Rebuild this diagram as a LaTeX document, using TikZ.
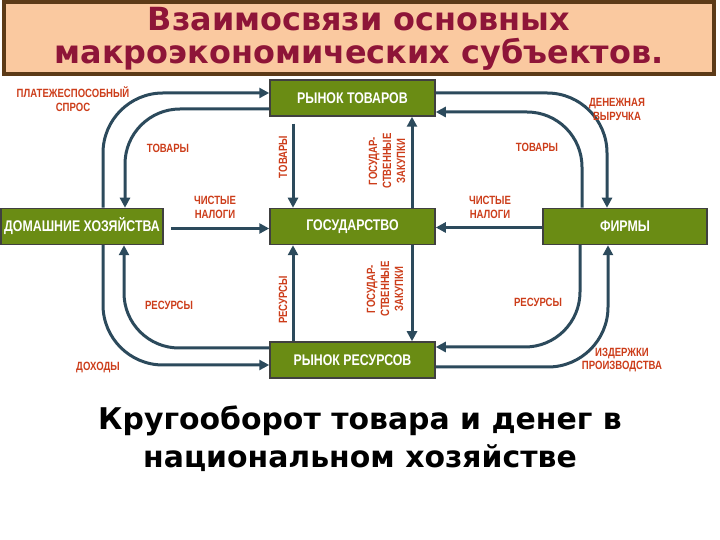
\documentclass[tikz,border=0pt]{standalone}
\usepackage{fontspec}
\setmainfont{Liberation Sans}
\newfontfamily\headfont{DejaVu Sans}
\newfontfamily\narrowfont[FakeStretch=0.8]{Liberation Sans}
\usetikzlibrary{arrows.meta}
\definecolor{boxgreen}{HTML}{6A8C14}
\definecolor{flowcol}{HTML}{2C4A5C}
\definecolor{labelred}{HTML}{CC3D1A}
\definecolor{titlebg}{HTML}{FAC9A0}
\definecolor{titleframe}{HTML}{5C3A17}
\definecolor{titletext}{HTML}{8E1538}

\begin{document}
\begin{tikzpicture}[x=1bp, y=1bp,
    sector/.style ={rectangle, draw=black!75, line width=1.5bp, fill=boxgreen, text=white,
      minimum width=165bp, minimum height=36bp, inner sep=0pt,
      font=\narrowfont\bfseries\fontsize{15.5}{17}\selectfont},
    flowlabel/.style ={text=labelred, align=center, inner sep=0pt,
      font=\narrowfont\bfseries\fontsize{12}{14}\selectfont},
    flow/.style ={line width=3bp, draw=flowcol, -{Triangle[length=10bp,width=10bp]}}]
   \useasboundingbox (0,0) rectangle (720,540);
   \node[rectangle, draw=titleframe, line width=4bp, fill=titlebg, text=titletext,
     minimum width=710bp, minimum height=72bp, align=center,
     font=\headfont\bfseries\fontsize{32}{33}\selectfont] (title) at (359,501.5)
     {Взаимосвязи основных\\макроэкономических субъектов.};

   \node[sector] (market goods) at (352.5,442) {РЫНОК ТОВАРОВ};
   \node[sector] (state) at (352.5,313.5) {ГОСУДАРСТВО};
   \node[sector, minimum width=162bp] (households) at (82,313.5) {ДОМАШНИЕ ХОЗЯЙСТВА};
   \node[sector, minimum width=164bp] (firms) at (625,313.5) {ФИРМЫ};
   \node[sector] (market res) at (352.5,180) {РЫНОК РЕСУРСОВ};

   \draw[flow, rounded corners=60bp] ([xshift=21bp]households.north) |- ([yshift=5bp]market goods.west);
   \draw[flow, rounded corners=55bp] ([yshift=-11bp]market goods.west) -| ([xshift=43bp]households.north);
   \draw[flow, rounded corners=60bp] ([yshift=5bp]market goods.east) -| ([xshift=-18bp]firms.north);
   \draw[flow, rounded corners=55bp] ([xshift=-43bp]firms.north) |- ([yshift=-14bp]market goods.east);
   \draw[flow, rounded corners=60bp] ([xshift=21bp]households.south) |- ([yshift=-5bp]market res.west);
   \draw[flow, rounded corners=55bp] ([yshift=12bp]market res.west) -| ([xshift=42bp]households.south);
   \draw[flow, rounded corners=55bp] ([xshift=-45bp]firms.south) |- ([yshift=13bp]market res.east);
   \draw[flow, rounded corners=60bp] ([yshift=-7bp]market res.east) -| ([xshift=-17bp]firms.south);

   \draw[flow, shorten <=7bp] ([yshift=-2bp]households.east) -- ([yshift=-2bp]state.west);
   \draw[flow] ([yshift=-1bp]firms.west) -- ([yshift=-1bp]state.east);
   \draw[flow, shorten <=7bp] ([xshift=-59.5bp]market goods.south) -- ([xshift=-59.5bp]state.north);
   \draw[flow] ([xshift=59.5bp]state.north) -- ([xshift=59.5bp]market goods.south);
   \draw[flow] ([xshift=-59.5bp]market res.north) -- ([xshift=-59.5bp]state.south);
   \draw[flow] ([xshift=59.5bp]state.south) -- ([xshift=59.5bp]market res.north);

   \node[flowlabel] (demand) at (73,441) {ПЛАТЕЖЕСПОСОБНЫЙ\\СПРОС};
   \node[flowlabel] (goods hh) at (168,392) {ТОВАРЫ};
   \node[flowlabel] (taxes hh) at (215,333) {ЧИСТЫЕ\\НАЛОГИ};
   \node[flowlabel, rotate=90] (goods state) at (283,383) {ТОВАРЫ};
   \node[flowlabel, rotate=90] (purchases top) at (387,379) {ГОСУДАР-\\СТВЕННЫЕ\\ЗАКУПКИ};
   \node[flowlabel] (revenue) at (617,431) {ДЕНЕЖНАЯ\\ВЫРУЧКА};
   \node[flowlabel] (goods firms) at (537,393) {ТОВАРЫ};
   \node[flowlabel] (taxes firms) at (490,333) {ЧИСТЫЕ\\НАЛОГИ};
   \node[flowlabel] (res hh) at (169,235) {РЕСУРСЫ};
   \node[flowlabel] (income) at (98,172) {ДОХОДЫ};
   \node[flowlabel, rotate=90] (res state) at (283,240) {РЕСУРСЫ};
   \node[flowlabel, rotate=90] (purchases bottom) at (385,251) {ГОСУДАР-\\СТВЕННЫЕ\\ЗАКУПКИ};
   \node[flowlabel] (res firms) at (538,238) {РЕСУРСЫ};
   \node[flowlabel] (costs) at (622,180) {ИЗДЕРЖКИ\\ПРОИЗВОДСТВА};

   \node[align=center, font=\headfont\bfseries\fontsize{30}{38}\selectfont] (caption) at (360,101)
     {Кругооборот товара и денег в\\национальном хозяйстве};
\end{tikzpicture}
\end{document}
